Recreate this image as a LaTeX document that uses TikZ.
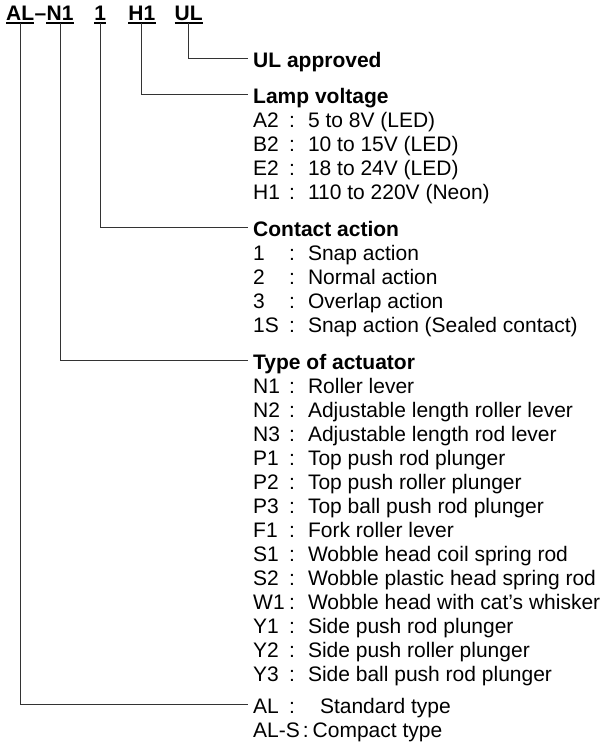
\documentclass[tikz,border=0pt]{standalone}
\usepackage{fontspec}
\setmainfont{Liberation Sans}
\usepackage{array}
\usetikzlibrary{positioning}
\tikzset{
  code/.style={inner sep=0pt, font=\fontsize{21}{24}\selectfont\bfseries},
  group/.style={inner sep=0pt, anchor=base west, font=\fontsize{21}{24}\selectfont},
  uline/.style={line width=1.3pt},
  line/.style={line width=1pt, black!80}
}
\newcommand{\heading}[1]{\multicolumn{2}{@{}l@{}}{\textbf{#1}}}

\begin{document}
\begin{tikzpicture}[x=1pt, y=-1pt]
  \useasboundingbox (0,0) rectangle (608,745);
  % model code
  \node[code, anchor=base west] (al) at (6,20) {AL};
  \node[code, base right=0pt of al] (dash) {--};
  \node[code, base right=0pt of dash] (n1) {N1};
  \node[code, base right=20.5pt of n1] (c1) {1};
  \node[code, base right=22pt of c1] (h1) {H1};
  \node[code, base right=19pt of h1] (ul) {UL};
  \draw[uline] ([yshift=-3pt]al.base west) -- ([yshift=-3pt]al.base east);
  \draw[uline] ([yshift=-3pt]n1.base west) -- ([yshift=-3pt]n1.base east);
  \draw[uline] ([yshift=-3pt]c1.base west) -- ([yshift=-3pt]c1.base east);
  \draw[uline] ([yshift=-3pt]h1.base west) -- ([yshift=-3pt]h1.base east);
  \draw[uline] ([yshift=-3pt]ul.base west) -- ([yshift=-3pt]ul.base east);
  % option lists
  \node[group] (ulapp) at (253,67) {\textbf{UL approved}};
  \node[group] (lamp) at (253,103) {\begin{tabular}[t]{@{}p{36pt}@{:\hspace{13pt}}l@{}}
    \heading{Lamp voltage}\\
    A2 & 5 to 8V (LED)\\
    B2 & 10 to 15V (LED)\\
    E2 & 18 to 24V (LED)\\
    H1 & 110 to 220V (Neon)
  \end{tabular}};
  \node[group] (contact) at (253,236) {\begin{tabular}[t]{@{}p{36pt}@{:\hspace{13pt}}l@{}}
    \heading{Contact action}\\
    1 & Snap action\\
    2 & Normal action\\
    3 & Overlap action\\
    1S & Snap action (Sealed contact)
  \end{tabular}};
  \node[group] (actuator) at (253,369) {\begin{tabular}[t]{@{}p{36pt}@{:\hspace{13pt}}l@{}}
    \heading{Type of actuator}\\
    N1 & Roller lever\\
    N2 & Adjustable length roller lever\\
    N3 & Adjustable length rod lever\\
    P1 & Top push rod plunger\\
    P2 & Top push roller plunger\\
    P3 & Top ball push rod plunger\\
    F1 & Fork roller lever\\
    S1 & Wobble head coil spring rod\\
    S2 & Wobble plastic head spring rod\\
    W1 & Wobble head with cat’s whisker\\
    Y1 & Side push rod plunger\\
    Y2 & Side push roller plunger\\
    Y3 & Side ball push rod plunger
  \end{tabular}};
  \node[group] (series) at (253,713) {\begin{tabular}[t]{@{}p{36pt}@{:\hspace{13pt}}l@{}}
    AL & \hspace{12pt}Standard type\\
    \multicolumn{2}{@{}l@{}}{AL-S\hspace{3pt}:\hspace{4pt}Compact type}
  \end{tabular}};
  % leaders
  \draw[line] ([yshift=-3pt]ul.base) |- ([xshift=-5pt,yshift=9pt]ulapp.base west);
  \draw[line] ([yshift=-3pt]h1.base) |- ([xshift=-5pt,yshift=9pt]lamp.base west);
  \draw[line] ([yshift=-3pt]c1.base) |- ([xshift=-5pt,yshift=9pt]contact.base west);
  \draw[line] ([yshift=-3pt]n1.base) |- ([xshift=-5pt,yshift=9pt]actuator.base west);
  \draw[line] ([yshift=-3pt]al.base) |- ([xshift=-5pt,yshift=9pt]series.base west);
\end{tikzpicture}
\end{document}
